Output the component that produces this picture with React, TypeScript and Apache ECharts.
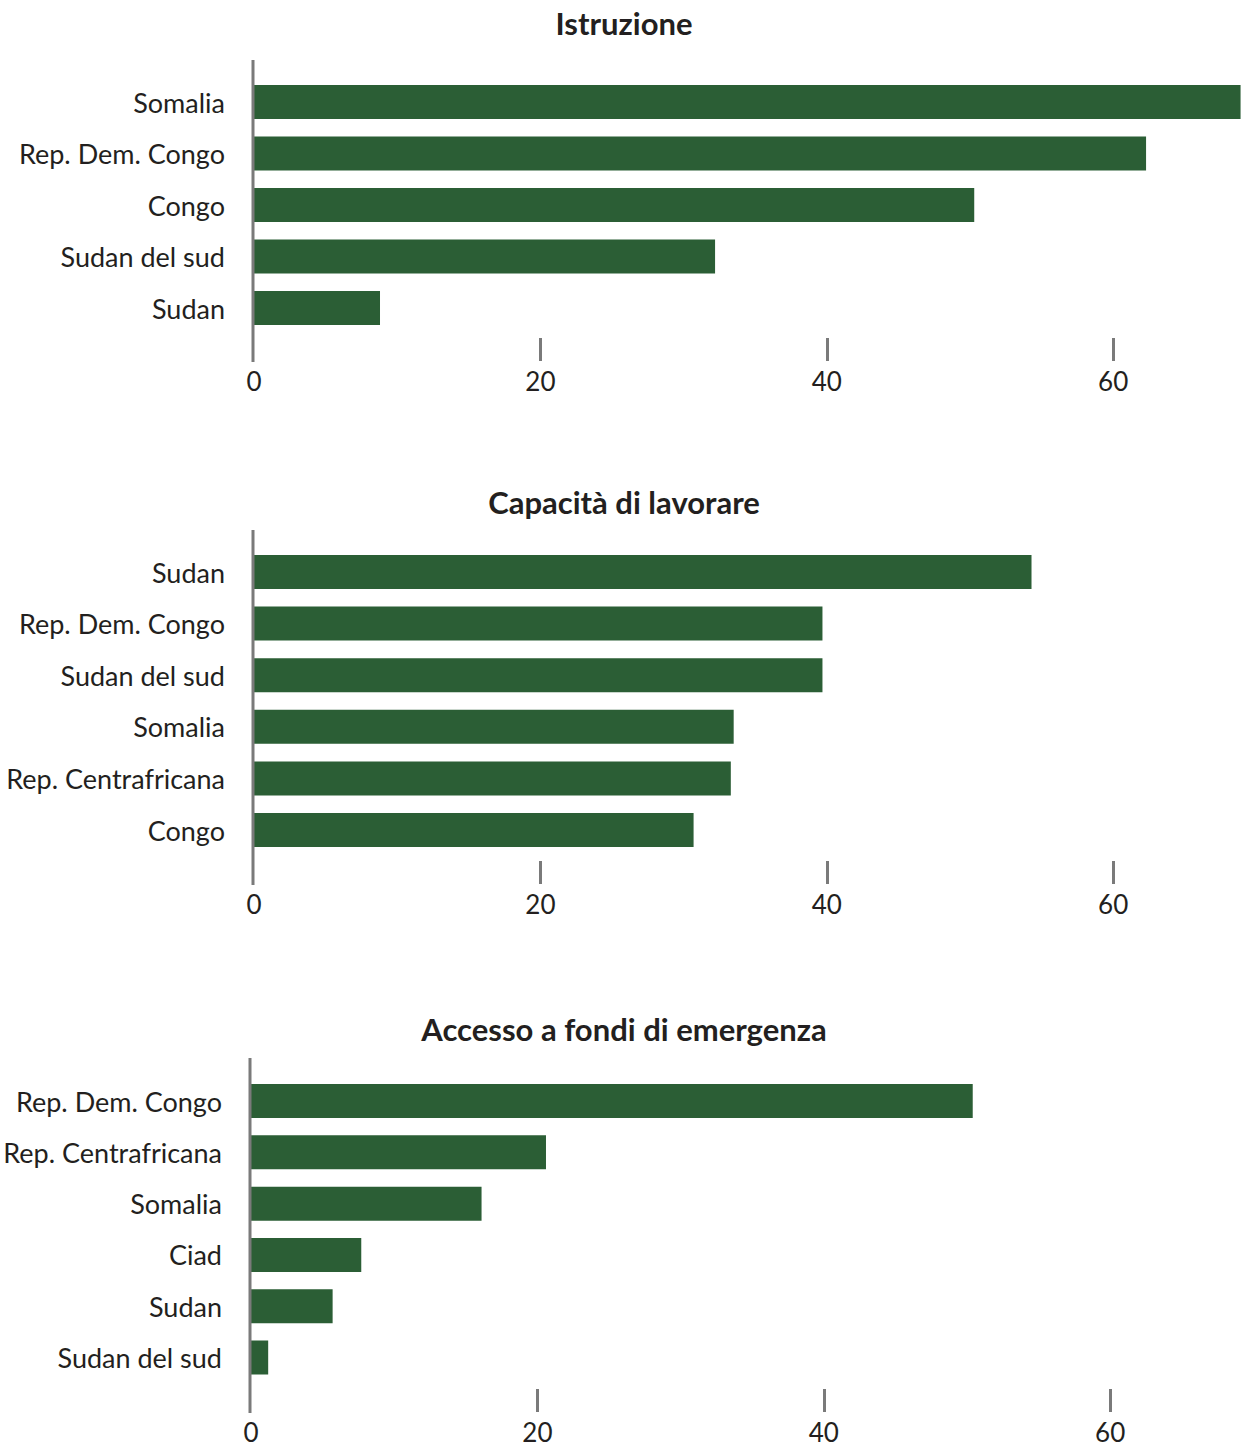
import React, { useEffect, useRef } from "react";
import * as echarts from "echarts";

const titles = ["Istruzione", "Capacità di lavorare", "Accesso a fondi di emergenza"];

const istruzioneCategories = ["Somalia", "Rep. Dem. Congo", "Congo", "Sudan del sud", "Sudan"];
const istruzioneValues = [68.9, 62.3, 50.3, 32.2, 8.8];

const lavorareCategories = ["Sudan", "Rep. Dem. Congo", "Sudan del sud", "Somalia", "Rep. Centrafricana", "Congo"];
const lavorareValues = [54.3, 39.7, 39.7, 33.5, 33.3, 30.7];

const fondiCategories = ["Rep. Dem. Congo", "Rep. Centrafricana", "Somalia", "Ciad", "Sudan", "Sudan del sud"];
const fondiValues = [50.4, 20.6, 16.1, 7.7, 5.7, 1.2];

const tickLabels = [0, 20, 40, 60];
const tickMarks = [20, 40, 60];

const FONT = "Lato, 'Open Sans', sans-serif";
const BAR = "#2b5e35";
const AXIS = "#7a7a7a";
const TEXT = "#231f20";

// layout per panel (pixels)
const panels = [
  { cats: istruzioneCategories, vals: istruzioneValues, left: 254, top: 76.3, band: 51.5, lineTop: 60, lineBottom: 362, titleY: 23 },
  { cats: lavorareCategories, vals: lavorareValues, left: 254, top: 546.2, band: 51.6, lineTop: 530, lineBottom: 885, titleY: 502 },
  { cats: fondiCategories, vals: fondiValues, left: 251, top: 1075.4, band: 51.3, lineTop: 1058, lineBottom: 1413, titleY: 1029 },
];
const PX_PER_UNIT = 14.32;
const X_MAX = 69;

export default function App() {
  const ref = useRef<HTMLDivElement>(null);
  useEffect(() => {
    if (!ref.current) return;
    const chart = echarts.init(ref.current, null, { renderer: "svg" });
    const grid: any[] = [];
    const xAxis: any[] = [];
    const yAxis: any[] = [];
    const series: any[] = [];
    const graphic: any[] = [];
    panels.forEach((p, i) => {
      const height = p.band * p.cats.length;
      const gridBottom = p.top + height;
      grid.push({ left: p.left, top: p.top, width: X_MAX * PX_PER_UNIT, height, containLabel: false });
      xAxis.push({
        type: "value",
        gridIndex: i,
        min: 0,
        max: X_MAX,
        interval: 20,
        position: "bottom",
        offset: p.lineBottom - 1 - gridBottom,
        axisLine: { show: false },
        splitLine: { show: false },
        axisTick: {
          show: true,
          inside: true,
          length: 23,
          customValues: tickMarks,
          lineStyle: { color: AXIS, width: 3 },
        },
        axisLabel: {
          show: true,
          customValues: tickLabels,
          margin: 8,
          fontFamily: FONT,
          fontSize: 26,
          lineHeight: 24,
          color: TEXT,
        },
      });
      yAxis.push({
        type: "category",
        gridIndex: i,
        data: p.cats,
        inverse: true,
        axisLine: { show: false },
        axisTick: { show: false },
        splitLine: { show: false },
        axisLabel: {
          margin: 29,
          fontFamily: FONT,
          fontSize: 27,
          color: TEXT,
        },
      });
      series.push({
        type: "bar",
        xAxisIndex: i,
        yAxisIndex: i,
        data: p.vals,
        barWidth: 34,
        itemStyle: { color: BAR },
        silent: true,
      });
      graphic.push({
        type: "line",
        shape: { x1: p.left - 1, y1: p.lineTop, x2: p.left - 1, y2: p.lineBottom },
        style: { stroke: AXIS, lineWidth: 3 },
        z: 10,
      });
      graphic.push({
        type: "text",
        x: 624,
        y: p.titleY,
        style: {
          text: titles[i],
          fontFamily: FONT,
          fontSize: 31,
          fontWeight: "bold",
          fill: TEXT,
          align: "center",
          verticalAlign: "middle",
        },
      });
    });
    chart.setOption({
      animation: false,
      backgroundColor: "#ffffff",
      grid,
      xAxis,
      yAxis,
      series,
      graphic,
    });
    return () => chart.dispose();
  }, []);
  return (
    <div
      ref={ref}
      style={{ position: "absolute", left: 0, top: 0, width: 1242, height: 1447 }}
    />
  );
}
